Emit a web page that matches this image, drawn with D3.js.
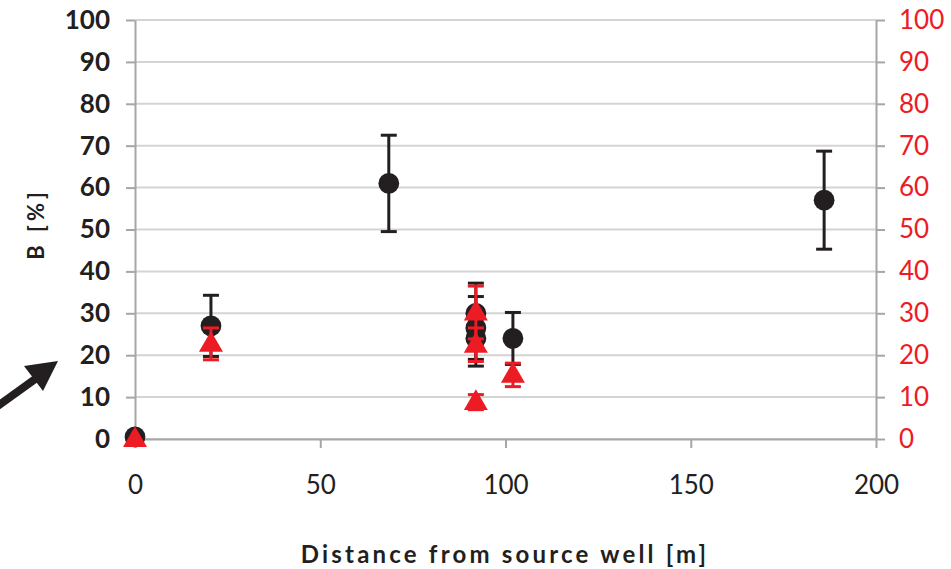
<!DOCTYPE html>
<html>
<head>
<meta charset="utf-8">
<script src="https://cdn.jsdelivr.net/npm/d3@7"></script>
<style>
  body { margin: 0; background: #fff; }
  text { font-family: Lato, "Open Sans", sans-serif; }
</style>
</head>
<body>
<div id="chart"></div>
<script>
// DATA
var xTicks = [0, 50, 100, 150, 200];
var yTicks = [0, 10, 20, 30, 40, 50, 60, 70, 80, 90, 100];

// black circles (left axis)
var blackDist = [0, 20.5, 68.5, 92, 92, 92, 102, 186];
var blackB = [0.5, 27, 61, 30, 26.5, 24, 24, 57];
var blackErr = [0, 7.3, 11.5, 7.2, 7.5, 6.6, 6.2, 11.7];

// red triangles (right axis)
var redDist = [0, 20.5, 92, 92, 92, 102];
var redB = [0, 22.7, 30.2, 22.5, 8.8, 15.3];
var redErr = [0, 3.8, 6.3, 4, 1.8, 2.8];

var black = "#231f20";
var red = "#ed1c24";

// SET UP CHART
var svgWidth = 951;
var svgHeight = 569;
var margin = { top: 20, right: 75, bottom: 130, left: 135 };
var chartWidth = svgWidth - margin.left - margin.right;
var chartHeight = svgHeight - margin.top - margin.bottom;

var svg = d3.select("#chart").append("svg")
  .attr("width", svgWidth)
  .attr("height", svgHeight);

var chartGroup = svg.append("g")
  .attr("transform", `translate(${margin.left}, ${margin.top})`);

var xScale = d3.scaleLinear().domain([0, 200]).range([0, chartWidth]);
var yScale = d3.scaleLinear().domain([0, 100]).range([chartHeight, 0]);
var yScaleRight = d3.scaleLinear().domain([0, 100]).range([chartHeight, 0]);

// gridlines
chartGroup.append("g")
  .selectAll("line")
  .data(yTicks)
  .enter()
  .append("line")
  .attr("x1", 0)
  .attr("x2", chartWidth)
  .attr("y1", d => yScale(d))
  .attr("y2", d => yScale(d))
  .attr("stroke", "#d4d4d4")
  .attr("stroke-width", 2);

// axes
function styleAxis(g) {
  g.select(".domain").attr("stroke", "#a6a6a6").attr("stroke-width", 2);
  g.selectAll(".tick line").attr("stroke", "#a6a6a6").attr("stroke-width", 2);
}

var leftAxis = chartGroup.append("g")
  .call(d3.axisLeft(yScale).tickValues(yTicks).tickSize(9).tickPadding(16).tickSizeOuter(0));
styleAxis(leftAxis);
leftAxis.selectAll(".tick text")
  .attr("fill", black)
  .attr("font-size", 26)
  .attr("font-weight", "bold");

var rightAxis = chartGroup.append("g")
  .attr("transform", `translate(${chartWidth}, 0)`)
  .call(d3.axisRight(yScaleRight).tickValues(yTicks).tickSize(9).tickPadding(14).tickSizeOuter(0));
styleAxis(rightAxis);
rightAxis.selectAll(".tick text")
  .attr("fill", red)
  .attr("font-size", 26);

var bottomAxis = chartGroup.append("g")
  .attr("transform", `translate(0, ${chartHeight})`)
  .call(d3.axisBottom(xScale).tickValues(xTicks).tickSize(9).tickPadding(28).tickSizeOuter(0));
styleAxis(bottomAxis);
bottomAxis.selectAll(".tick text")
  .attr("fill", black)
  .attr("font-size", 26);

// error bars and markers
function drawSeries(dist, vals, errs, color, shape) {
  var data = dist.map((d, i) => ({ x: d, y: vals[i], e: errs[i] }));
  var eb = chartGroup.append("g")
    .selectAll("g")
    .data(data.filter(d => d.e > 0))
    .enter()
    .append("g")
    .attr("stroke", color)
    .attr("stroke-width", 3);
  eb.append("line")
    .attr("x1", d => xScale(d.x)).attr("x2", d => xScale(d.x))
    .attr("y1", d => yScale(d.y - d.e)).attr("y2", d => yScale(d.y + d.e));
  eb.append("line")
    .attr("x1", d => xScale(d.x) - 8).attr("x2", d => xScale(d.x) + 8)
    .attr("y1", d => yScale(d.y + d.e)).attr("y2", d => yScale(d.y + d.e));
  eb.append("line")
    .attr("x1", d => xScale(d.x) - 8).attr("x2", d => xScale(d.x) + 8)
    .attr("y1", d => yScale(d.y - d.e)).attr("y2", d => yScale(d.y - d.e));

  var sym = shape === "circle"
    ? d3.symbol().type(d3.symbolCircle).size(340)
    : d3.symbol().type(d3.symbolTriangle).size(250);
  chartGroup.append("g")
    .selectAll("path")
    .data(data)
    .enter()
    .append("path")
    .attr("d", sym)
    .attr("transform", d => `translate(${xScale(d.x)}, ${yScale(d.y) + (shape === "circle" ? 0 : 1)})`)
    .attr("fill", color);
}

drawSeries(blackDist, blackB, blackErr, black, "circle");
drawSeries(redDist, redB, redErr, red, "triangle");

// axis titles
svg.append("text")
  .attr("transform", "translate(44, 224) rotate(-90)")
  .attr("text-anchor", "middle")
  .attr("font-size", 22)
  .attr("font-weight", "bold")
  .attr("letter-spacing", 4)
  .attr("fill", black)
  .text("B [%]");

svg.append("text")
  .attr("x", 505)
  .attr("y", 563)
  .attr("text-anchor", "middle")
  .attr("font-size", 24)
  .attr("font-weight", "bold")
  .attr("letter-spacing", 3.2)
  .attr("fill", black)
  .text("Distance from source well [m]");

// arrow annotation
svg.append("line")
  .attr("x1", -5).attr("y1", 408)
  .attr("x2", 38).attr("y2", 377)
  .attr("stroke", black)
  .attr("stroke-width", 8);
svg.append("path")
  .attr("d", "M58,361 L24,366 L43,391 Z")
  .attr("fill", black);
</script>
</body>
</html>
